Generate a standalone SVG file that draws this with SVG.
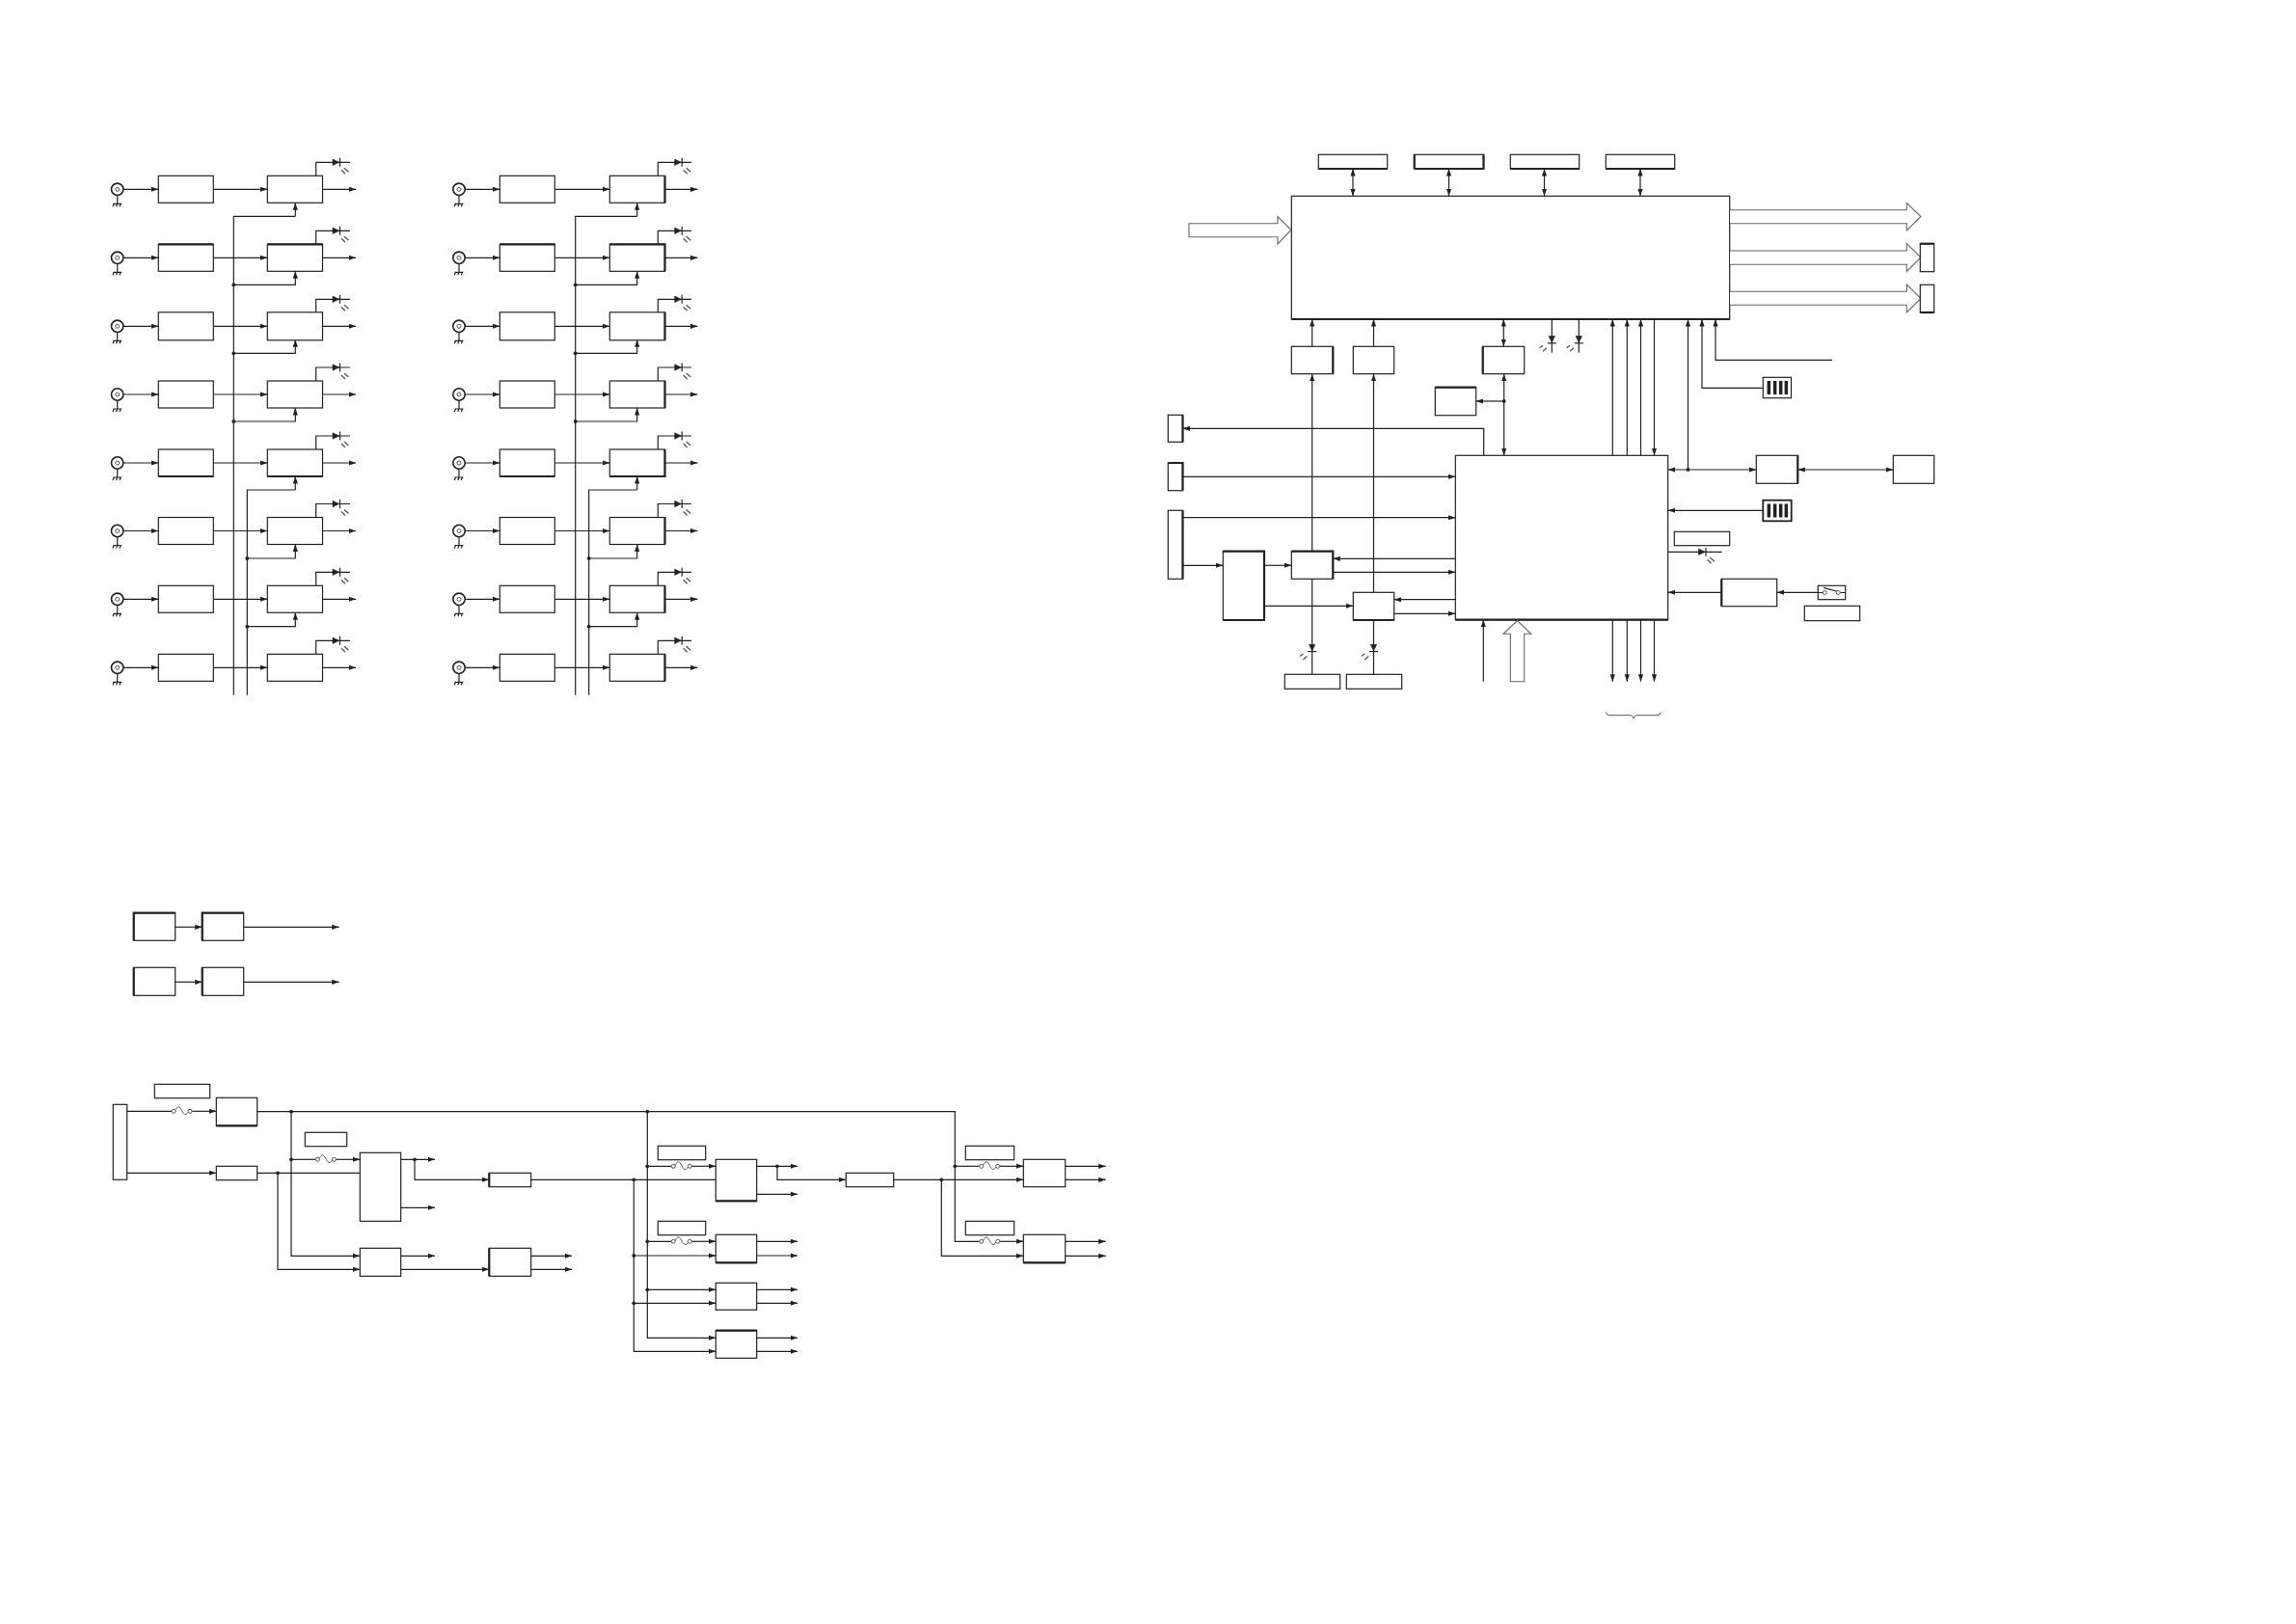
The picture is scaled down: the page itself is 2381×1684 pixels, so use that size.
<svg xmlns="http://www.w3.org/2000/svg" width="2381" height="1684" viewBox="0 0 2381 1684">
<style>
.n{fill:#fff;stroke:#222;stroke-width:1.2}
.th{fill:none;stroke:#222;stroke-width:2.2}
.w,.a,.b{fill:none;stroke:#222;stroke-width:1.2}
.a{marker-end:url(#ah)}
.b{marker-end:url(#ah);marker-start:url(#ahs)}
.h{fill:#fff;stroke:#666;stroke-width:1.1}
.f{fill:none;stroke:#444;stroke-width:.9}
.t{fill:#222;stroke:#222;stroke-width:.6}
.m{fill:none;stroke:#555;stroke-width:1.3}
.bar{fill:#222}
</style>
<defs>
<marker id="ah" markerUnits="userSpaceOnUse" markerWidth="9" markerHeight="6" refX="7.5" refY="3" orient="auto"><path d="M0,.4 L7.5,3 L0,5.6Z" fill="#222"/></marker>
<marker id="ahs" markerUnits="userSpaceOnUse" markerWidth="9" markerHeight="6" refX="7.5" refY="3" orient="auto-start-reverse"><path d="M0,.4 L7.5,3 L0,5.6Z" fill="#222"/></marker>
<g id="dot"><circle r="1.9" fill="#222"/></g>
<g id="bnc"><circle r="6.2" fill="#fff" stroke="#222" stroke-width="1.6"/><circle r="2" fill="#fff" stroke="#444" stroke-width=".9"/><path class="w" d="M0,6V15M-4.5,15H4.5M-3.5,15L-4.7,18M0,15L-1.2,18M3.5,15L2.3,18"/></g>
<g id="led"><path class="t" d="M0,-3.2L6.6,0L0,3.2Z"/><path class="w" d="M7.5,-4.5V4.5"/><path class="m" d="M9,8L13,12M12,6L16.5,10"/></g>
<g id="ledd"><path class="t" d="M-3.2,0H3.2L0,6.6Z"/><path class="w" d="M-4.5,7.3H4.5"/><path class="m" d="M-12.7,12.3L-9.3,9.7M-9.3,15.7L-5.3,12.3"/></g>
<g id="fuse"><circle cx="0" r="2" fill="#fff" stroke="#444" stroke-width=".9"/><circle cx="17" r="2" fill="#fff" stroke="#444" stroke-width=".9"/><path class="f" d="M2,-1C4,-6 6.5,-5 8.5,-1C10,3 13,5 15,1"/></g>
<g id="bars"><path class="bar" d="M4.3,4H7.8V18H4.3ZM10.6,4H14.1V18H10.6ZM16.6,4H20.1V18H16.6ZM22.3,4H25.8V18H22.3Z"/></g>
<g id="rwa"><path class="a" d="M127,0H164.3"/><path class="a" d="M221.3,0H277.3"/><path class="a" d="M334.5,0H369"/><path class="w" d="M327.7,-14V-28H363"/></g>
<g id="rwb"><path class="a" d="M481.3,0H518.3"/><path class="a" d="M575.3,0H632.3"/><path class="a" d="M689.7,0H723.5"/><path class="w" d="M682.3,-14V-28H717"/></g>
</defs>
<rect width="2381" height="1684" fill="#fff"/>

<g id="connectors">
<use href="#rwa" y="196.3"/><use href="#rwa" y="267.3"/><use href="#rwa" y="338.3"/><use href="#rwa" y="409"/><use href="#rwa" y="480"/><use href="#rwa" y="550.5"/><use href="#rwa" y="621.3"/><use href="#rwa" y="692.3"/>
<path class="w" d="M242.3,720.7V224.3H306.3M256.3,720.7V508H306.3"/>
<path class="a" d="M306.3,224.3V210.3"/>
<path class="a" d="M242.3,295.3H306.3V281.3"/>
<path class="a" d="M242.3,366.3H306.3V352.3"/>
<path class="a" d="M242.3,437H306.3V423"/>
<path class="a" d="M306.3,508V494"/>
<path class="a" d="M256.3,579H306.3V564.5"/>
<path class="a" d="M256.3,649.7H306.3V635.3"/>
<use href="#rwb" y="196.3"/><use href="#rwb" y="267.3"/><use href="#rwb" y="338.3"/><use href="#rwb" y="409"/><use href="#rwb" y="480"/><use href="#rwb" y="550.5"/><use href="#rwb" y="621.3"/><use href="#rwb" y="692.3"/>
<path class="w" d="M596.7,720.7V224.3H660.7M610.7,720.7V508H660.7"/>
<path class="a" d="M660.7,224.3V210.3"/>
<path class="a" d="M596.7,295.3H660.7V281.3"/>
<path class="a" d="M596.7,366.3H660.7V352.3"/>
<path class="a" d="M596.7,437H660.7V423"/>
<path class="a" d="M660.7,508V494"/>
<path class="a" d="M610.7,579H660.7V564.5"/>
<path class="a" d="M610.7,649.7H660.7V635.3"/>
<use href="#dot" x="242.3" y="295.3"/><use href="#dot" x="242.3" y="366.3"/><use href="#dot" x="242.3" y="437"/><use href="#dot" x="256.3" y="579"/><use href="#dot" x="256.3" y="649.7"/>
<use href="#dot" x="596.7" y="295.3"/><use href="#dot" x="596.7" y="366.3"/><use href="#dot" x="596.7" y="437"/><use href="#dot" x="610.7" y="579"/><use href="#dot" x="610.7" y="649.7"/>

<path class="a" d="M181.7,961.3H209.7"/><path class="a" d="M252.7,961.3H351.7"/><path class="a" d="M181.7,1018.3H209.7"/><path class="a" d="M252.7,1018.3H351.7"/>

<path class="b" d="M1403,175V203.3"/><path class="b" d="M1502.5,175V203.3"/><path class="b" d="M1601.5,175V203.3"/><path class="b" d="M1701,175V203.3"/>
<path class="a" d="M1360.7,359.3V331"/><path class="a" d="M1424.5,359.3V331"/><path class="a" d="M1360.7,571.7V387.7"/><path class="a" d="M1424.5,614.3V387.7"/>
<path class="b" d="M1559.3,359.3V331"/>
<path class="b" d="M1559.7,472.3V387.7"/>
<path class="a" d="M1559.7,416H1530.7"/><use href="#dot" x="1559.7" y="416"/>
<path class="w" d="M1609.3,331V365.7M1637.3,331V365.7"/>
<path class="a" d="M1672.3,472.3V331"/><path class="a" d="M1687.3,472.3V331"/><path class="a" d="M1701.5,472.3V331"/><path class="a" d="M1750.5,487V331"/>
<path class="a" d="M1828.3,402.3H1765V331"/><path class="a" d="M1900,373.3H1779V331"/>
<path class="a" d="M1715.5,331V472.3"/>
<path class="a" d="M1538.7,472.3V444.3H1226.5"/><path class="a" d="M1226.5,494.3H1509.3"/><path class="a" d="M1226.5,536.7H1509.3"/><path class="a" d="M1226.5,586.3H1268.3"/><path class="a" d="M1311,586.3H1339.3"/><path class="a" d="M1311,628.3H1403.3"/><path class="a" d="M1509.3,579.3H1382.3"/><path class="a" d="M1382.3,593.3H1509.3"/><path class="a" d="M1509.3,621.7H1445.7"/><path class="a" d="M1445.7,636.3H1509.3"/>
<path class="w" d="M1360.7,600.3V699.3M1424.5,643V699.3"/>
<path class="a" d="M1538.3,706.7V642.7"/><path class="a" d="M1672.3,642.7V706.7"/><path class="a" d="M1687.3,642.7V706.7"/><path class="a" d="M1701.5,642.7V706.7"/><path class="a" d="M1715.5,642.7V706.7"/>
<path class="b" d="M1729.7,487H1821.3"/><use href="#dot" x="1750.5" y="487"/>
<path class="b" d="M1864.3,487H1963.3"/>
<path class="a" d="M1828.3,529.3H1729.7"/><path class="a" d="M1785.3,614.3H1729.7"/><path class="a" d="M1885.3,614.3H1842.7"/>
<path class="w" d="M1729.7,572.3H1785.7"/>

<path class="w" d="M131.7,1152.3H178"/><path class="a" d="M199.3,1152.3H224.3"/>
<path class="a" d="M131.7,1216.3H224.3"/>
<path class="w" d="M266.7,1152.7H990.3V1287.3H1015.7"/>
<path class="w" d="M266.7,1216.3H373.3"/>
<path class="a" d="M288,1216.3V1316.3H373.3"/>
<path class="a" d="M302,1152.7V1302.3H373.3"/>
<path class="w" d="M302,1202.3H327.3"/><path class="a" d="M348,1202.3H373.3"/>
<use href="#dot" x="302" y="1152.7"/><use href="#dot" x="302" y="1202.3"/><use href="#dot" x="288" y="1216.3"/>
<path class="a" d="M415.7,1202.3H451"/><path class="a" d="M415.7,1252.3H451"/><path class="a" d="M415.7,1302.3H451"/>
<path class="a" d="M430,1202.3V1223.3H507.3"/><use href="#dot" x="430" y="1202.3"/>
<path class="a" d="M415.7,1316.3H507.3"/>
<path class="a" d="M550.7,1302.3H593"/><path class="a" d="M550.7,1316.3H593"/>
<path class="w" d="M550.7,1223.3H742.3"/>
<path class="a" d="M657.3,1223.3V1401.3H742.3"/>
<path class="a" d="M671.3,1152.7V1387.3H742.3"/>
<path class="a" d="M657.3,1302H742.3"/><path class="a" d="M657.3,1351.3H742.3"/><path class="a" d="M671.3,1337.3H742.3"/>
<path class="w" d="M671.3,1209.3H696.3M671.3,1287.3H696.3"/>
<path class="a" d="M717,1209.3H742.3"/><path class="a" d="M717,1287.3H742.3"/>
<use href="#dot" x="671.3" y="1152.7"/><use href="#dot" x="657.3" y="1223.3"/><use href="#dot" x="671.3" y="1209.3"/><use href="#dot" x="671.3" y="1287.3"/><use href="#dot" x="657.3" y="1302"/><use href="#dot" x="671.3" y="1337.3"/><use href="#dot" x="657.3" y="1351.3"/>
<path class="a" d="M784.7,1209.3H827"/><path class="a" d="M784.7,1238.3H827"/><path class="a" d="M784.7,1287.3H827"/><path class="a" d="M784.7,1302H827"/><path class="a" d="M784.7,1337.3H827"/><path class="a" d="M784.7,1351.3H827"/><path class="a" d="M784.7,1387.3H827"/><path class="a" d="M784.7,1401.3H827"/>
<path class="a" d="M806,1209.3V1223.3H877.3"/><use href="#dot" x="806" y="1209.3"/>
<path class="a" d="M926.7,1223.3H1061.3"/>
<path class="a" d="M976.3,1223.3V1302.3H1061.3"/><use href="#dot" x="976.3" y="1223.3"/>
<path class="w" d="M990.3,1209.3H1015.7"/><use href="#dot" x="990.3" y="1209.3"/>
<path class="a" d="M1037,1209.3H1061.3"/><path class="a" d="M1037,1287.3H1061.3"/>
<path class="a" d="M1104.7,1209.3H1146.7"/><path class="a" d="M1104.7,1223.3H1146.7"/><path class="a" d="M1104.7,1287.3H1146.7"/><path class="a" d="M1104.7,1302.3H1146.7"/>
</g>

<g id="input-a">
<g id="a1"><use href="#bnc" x="121.7" y="196.3"/><rect class="n" x="164.3" y="182.3" width="57" height="28"/><rect class="n" x="277.3" y="182.3" width="57.2" height="28"/><use href="#led" x="345" y="168.3"/></g>
<g id="a2"><use href="#bnc" x="121.7" y="267.3"/><rect class="n" x="164.3" y="253.3" width="57" height="28"/><path class="th" d="M164.3,253.3H221.3"/><rect class="n" x="277.3" y="253.3" width="57.2" height="28"/><path class="th" d="M277.3,253.3H334.5"/><use href="#led" x="345" y="239.3"/></g>
<g id="a3"><use href="#bnc" x="121.7" y="338.3"/><rect class="n" x="164.3" y="323.8" width="57" height="29"/><rect class="n" x="277.3" y="323.8" width="57.2" height="29"/><use href="#led" x="345" y="310.3"/></g>
<g id="a4"><use href="#bnc" x="121.7" y="409"/><rect class="n" x="164.3" y="395" width="57" height="28"/><rect class="n" x="277.3" y="395" width="57.2" height="28"/><use href="#led" x="345" y="381"/></g>
<g id="a5"><use href="#bnc" x="121.7" y="480"/><rect class="n" x="164.3" y="466" width="57" height="28"/><path class="th" d="M164.3,494H221.3"/><rect class="n" x="277.3" y="466" width="57.2" height="28"/><path class="th" d="M277.3,494H334.5"/><use href="#led" x="345" y="452"/></g>
<g id="a6"><use href="#bnc" x="121.7" y="550.5"/><rect class="n" x="164.3" y="536.5" width="57" height="28"/><rect class="n" x="277.3" y="536.5" width="57.2" height="28"/><use href="#led" x="345" y="522.5"/></g>
<g id="a7"><use href="#bnc" x="121.7" y="621.3"/><rect class="n" x="164.3" y="607.3" width="57" height="28"/><rect class="n" x="277.3" y="607.3" width="57.2" height="28"/><use href="#led" x="345" y="593.3"/></g>
<g id="a8"><use href="#bnc" x="121.7" y="692.3"/><rect class="n" x="164.3" y="678.3" width="57" height="28"/><rect class="n" x="277.3" y="678.3" width="57.2" height="28"/><use href="#led" x="345" y="664.3"/></g>
</g>

<g id="input-b">
<g id="b1"><use href="#bnc" x="476" y="196.3"/><rect class="n" x="518.3" y="182.3" width="57" height="28"/><rect class="n" x="632.3" y="182.3" width="57.2" height="28"/><path class="th" d="M689.5,182.3V210.3"/><use href="#led" x="699.7" y="168.3"/></g>
<g id="b2"><use href="#bnc" x="476" y="267.3"/><rect class="n" x="518.3" y="253.3" width="57" height="28"/><path class="th" d="M518.3,253.3H575.3"/><rect class="n" x="632.3" y="253.3" width="57.2" height="28"/><path class="th" d="M632.3,253.3H689.5V281.3"/><use href="#led" x="699.7" y="239.3"/></g>
<g id="b3"><use href="#bnc" x="476" y="338.3"/><rect class="n" x="518.3" y="323.8" width="57" height="29"/><rect class="n" x="632.3" y="323.8" width="57.2" height="29"/><path class="th" d="M689.5,323.8V352.8"/><use href="#led" x="699.7" y="310.3"/></g>
<g id="b4"><use href="#bnc" x="476" y="409"/><rect class="n" x="518.3" y="395" width="57" height="28"/><rect class="n" x="632.3" y="395" width="57.2" height="28"/><path class="th" d="M689.5,395V423"/><use href="#led" x="699.7" y="381"/></g>
<g id="b5"><use href="#bnc" x="476" y="480"/><rect class="n" x="518.3" y="466" width="57" height="28"/><path class="th" d="M518.3,494H575.3"/><rect class="n" x="632.3" y="466" width="57.2" height="28"/><path class="th" d="M689.5,466V494H632.3"/><use href="#led" x="699.7" y="452"/></g>
<g id="b6"><use href="#bnc" x="476" y="550.5"/><rect class="n" x="518.3" y="536.5" width="57" height="28"/><rect class="n" x="632.3" y="536.5" width="57.2" height="28"/><path class="th" d="M689.5,536.5V564.5"/><use href="#led" x="699.7" y="522.5"/></g>
<g id="b7"><use href="#bnc" x="476" y="621.3"/><rect class="n" x="518.3" y="607.3" width="57" height="28"/><rect class="n" x="632.3" y="607.3" width="57.2" height="28"/><path class="th" d="M689.5,607.3V635.3"/><use href="#led" x="699.7" y="593.3"/></g>
<g id="b8"><use href="#bnc" x="476" y="692.3"/><rect class="n" x="518.3" y="678.3" width="57" height="28"/><rect class="n" x="632.3" y="678.3" width="57.2" height="28"/><path class="th" d="M689.5,678.3V706.3"/><use href="#led" x="699.7" y="664.3"/></g>
</g>

<g id="mid-left">
<g id="m1"><rect class="n" x="138.7" y="946.7" width="43" height="28.6"/><path class="th" d="M138.7,975.3V946.7H181.7"/></g>
<g id="m2"><rect class="n" x="209.7" y="946.7" width="43" height="28.6"/><path class="th" d="M209.7,975.3V946.7H252.7"/></g>
<g id="m3"><rect class="n" x="138.7" y="1003.3" width="43" height="29"/><path class="th" d="M138.7,1003.3V1032.3"/></g>
<g id="m4"><rect class="n" x="209.7" y="1003.3" width="43" height="29"/><path class="th" d="M209.7,1003.3V1032.3"/></g>
</g>

<g id="top-right">
<g id="t1"><rect class="n" x="1367.3" y="160.3" width="71.4" height="14.7"/><path class="th" d="M1367.3,175H1438.7"/></g>
<g id="t2"><rect class="n" x="1466.7" y="160.3" width="71.8" height="14.7"/><path class="th" d="M1466.7,175V160.3M1538.5,160.3V175H1466.7"/></g>
<g id="t3"><rect class="n" x="1566.3" y="160.3" width="71.4" height="14.7"/><path class="th" d="M1566.3,175H1637.7"/></g>
<g id="t4"><rect class="n" x="1665.3" y="160.3" width="71.4" height="14.7"/><path class="th" d="M1665.3,175H1736.7"/></g>
<g id="main1"><rect class="n" x="1339.3" y="203.3" width="454.4" height="127.7"/><path class="th" d="M1339.3,331H1793.7"/></g>
<g id="in-arrow"><path class="h" d="M1233,231.7H1325V224.5L1339,238.5L1325,253V245.7H1233Z"/></g>
<g id="out1"><path class="h" d="M1794,217.7H1977.3V210.5L1992,224.5L1977.3,239V231.7H1794"/></g>
<g id="out2"><path class="h" d="M1794,260H1977.3V252.5L1992,267L1977.3,281.5V274.3H1794"/></g>
<g id="out3"><path class="h" d="M1794,302.3H1977.3V295L1992,309.5L1977.3,324V316.3H1794"/></g>
<g id="c1"><rect class="n" x="1991.3" y="252.7" width="14.4" height="29"/><path class="th" d="M1991.3,252.7H2005.7"/></g>
<g id="c2"><rect class="n" x="1991.3" y="295.3" width="14.4" height="28.7"/><path class="th" d="M1991.3,324H2005.7"/></g>
<g id="bA"><rect class="n" x="1339.3" y="359.3" width="43" height="28.4"/><path class="th" d="M1382.3,359.3V387.7"/></g>
<g id="bB"><rect class="n" x="1403.3" y="359.3" width="42.4" height="28.4"/></g>
<g id="bC"><rect class="n" x="1537.7" y="359.3" width="43" height="28.4"/><path class="th" d="M1537.7,359.3V387.7"/></g>
<g id="bF"><rect class="n" x="1488.3" y="401.7" width="42.4" height="29"/><path class="th" d="M1488.3,401.7H1530.7"/></g>
<g id="ld1"><use href="#ledd" x="1609.3" y="348.5"/></g>
<g id="ld2"><use href="#ledd" x="1637.3" y="348.5"/></g>
<g id="dip1"><rect class="n" x="1828.3" y="391.3" width="29.2" height="21.4"/><use href="#bars" x="1828.3" y="391"/></g>
<g id="main2"><rect class="n" x="1509.3" y="472.3" width="220.4" height="170.4"/><path class="th" d="M1509.3,642.7H1729.7"/></g>
<g id="s1"><rect class="n" x="1211.3" y="430.3" width="15.2" height="28"/><path class="th" d="M1226.5,430.3V458.3"/></g>
<g id="s2"><rect class="n" x="1211.3" y="480" width="15.2" height="28.7"/><path class="th" d="M1211.3,480H1226.5V508.7"/></g>
<g id="s3"><rect class="n" x="1211.3" y="529.3" width="15.2" height="71"/><path class="th" d="M1226.5,529.3V600.3"/></g>
<g id="bG"><rect class="n" x="1268.3" y="571.7" width="42.7" height="71.3"/><path class="th" d="M1268.3,643H1311V571.7H1268.3"/></g>
<g id="bD"><rect class="n" x="1339.3" y="571.7" width="43" height="28.6"/><path class="th" d="M1339.3,571.7H1382.3V600.3"/></g>
<g id="bE"><rect class="n" x="1403.3" y="614.3" width="42.4" height="28.7"/><path class="th" d="M1403.3,643H1445.7"/></g>
<g id="ld3"><use href="#ledd" x="1360.7" y="668.3"/></g>
<g id="ld4"><use href="#ledd" x="1424.5" y="668.3"/></g>
<g id="l1"><rect class="n" x="1332.3" y="699.3" width="57.4" height="15"/></g>
<g id="l2"><rect class="n" x="1396.3" y="699.3" width="57.4" height="15"/></g>
<g id="up-arrow"><path class="h" d="M1566.3,706.7V657.3H1559L1573.5,643.5L1587.7,657.3H1580.7V706.7Z"/></g>
<g id="brace"><path class="f" d="M1665.3,738.5Q1666,741.7 1669,741.7H1691Q1693,741.7 1694,745Q1695,741.7 1697,741.7H1719Q1722,741.7 1722.3,738.5"/></g>
<g id="bH"><rect class="n" x="1821.3" y="472.3" width="43" height="29"/><path class="th" d="M1864.3,472.3V501.3"/></g>
<g id="bI"><rect class="n" x="1963.3" y="472.3" width="42.4" height="29"/></g>
<g id="dip2"><rect class="n" x="1828.3" y="518.7" width="29.4" height="21.6" style="stroke-width:1.8"/><use href="#bars" x="1828.3" y="518.5"/></g>
<g id="l3"><rect class="n" x="1736.3" y="551.3" width="57.4" height="14.4"/></g>
<g id="ld5"><use href="#led" x="1761.5" y="572.3"/></g>
<g id="bJ"><rect class="n" x="1785.3" y="600.3" width="57.4" height="28.4"/><path class="th" d="M1785.3,600.3V628.7"/></g>
<g id="sw"><rect class="n" x="1885.3" y="607.3" width="28.4" height="14.4"/><path class="w" d="M1885.3,614.5H1890.3M1908.3,614.5H1913.7M1891,609.3L1906,613.5"/><circle cx="1892.3" cy="614.5" r="2" fill="#fff" stroke="#444" stroke-width=".9"/><circle cx="1906.3" cy="614.5" r="2" fill="#fff" stroke="#444" stroke-width=".9"/></g>
<g id="l4"><rect class="n" x="1871.3" y="628.3" width="57.4" height="15.4"/></g>
</g>

<g id="power">
<g id="p1"><rect class="n" x="117.3" y="1145.3" width="14.4" height="78"/></g>
<g id="p2"><rect class="n" x="160.3" y="1124.3" width="57.4" height="14.4"/></g>
<g id="f1"><use href="#fuse" x="180" y="1152.3"/></g>
<g id="k"><rect class="n" x="224.3" y="1138.3" width="42.4" height="29"/><path class="th" d="M224.3,1167.3H266.7"/></g>
<g id="lb"><rect class="n" x="224.3" y="1209.3" width="42.4" height="14.4"/></g>
<g id="p3"><rect class="n" x="316.3" y="1174.3" width="43.4" height="14.4"/></g>
<g id="f2"><use href="#fuse" x="329.3" y="1202.3"/></g>
<g id="mb"><rect class="n" x="373.3" y="1195.3" width="42.4" height="71"/></g>
<g id="nb"><rect class="n" x="373.3" y="1294.3" width="42.4" height="29"/></g>
<g id="ob"><rect class="n" x="507.3" y="1216.3" width="43.4" height="14.4"/><path class="th" d="M507.3,1216.3V1230.7"/></g>
<g id="pb"><rect class="n" x="507.3" y="1294.3" width="43.4" height="29"/><path class="th" d="M507.3,1294.3V1323.3"/></g>
<g id="p4"><rect class="n" x="682.3" y="1188.3" width="49.4" height="14.4"/></g>
<g id="p5"><rect class="n" x="682.3" y="1266.3" width="49.4" height="14.4"/></g>
<g id="f3"><use href="#fuse" x="698.3" y="1209.3"/></g>
<g id="f4"><use href="#fuse" x="698.3" y="1287.3"/></g>
<g id="qb"><rect class="n" x="742.3" y="1202.3" width="42.4" height="43"/><path class="th" d="M742.3,1245.3H784.7"/></g>
<g id="rb"><rect class="n" x="742.3" y="1280.3" width="42.4" height="29"/><path class="th" d="M742.3,1309.3H784.7"/></g>
<g id="sb"><rect class="n" x="742.3" y="1330.3" width="42.4" height="28"/></g>
<g id="tb"><rect class="n" x="742.3" y="1379.7" width="42.4" height="28.6"/><path class="th" d="M742.3,1379.7H784.7"/></g>
<g id="ub"><rect class="n" x="877.3" y="1216.3" width="49.4" height="14.4"/></g>
<g id="p6"><rect class="n" x="1001.3" y="1188.3" width="50.4" height="14.4"/></g>
<g id="p7"><rect class="n" x="1001.3" y="1266.3" width="50.4" height="14.4"/></g>
<g id="f5"><use href="#fuse" x="1017.7" y="1209.3"/></g>
<g id="f6"><use href="#fuse" x="1017.7" y="1287.3"/></g>
<g id="vb"><rect class="n" x="1061.3" y="1202.3" width="43.4" height="28.4"/></g>
<g id="wb"><rect class="n" x="1061.3" y="1280.3" width="43.4" height="29"/><path class="th" d="M1061.3,1309.3H1104.7"/></g>
</g>
</svg>
